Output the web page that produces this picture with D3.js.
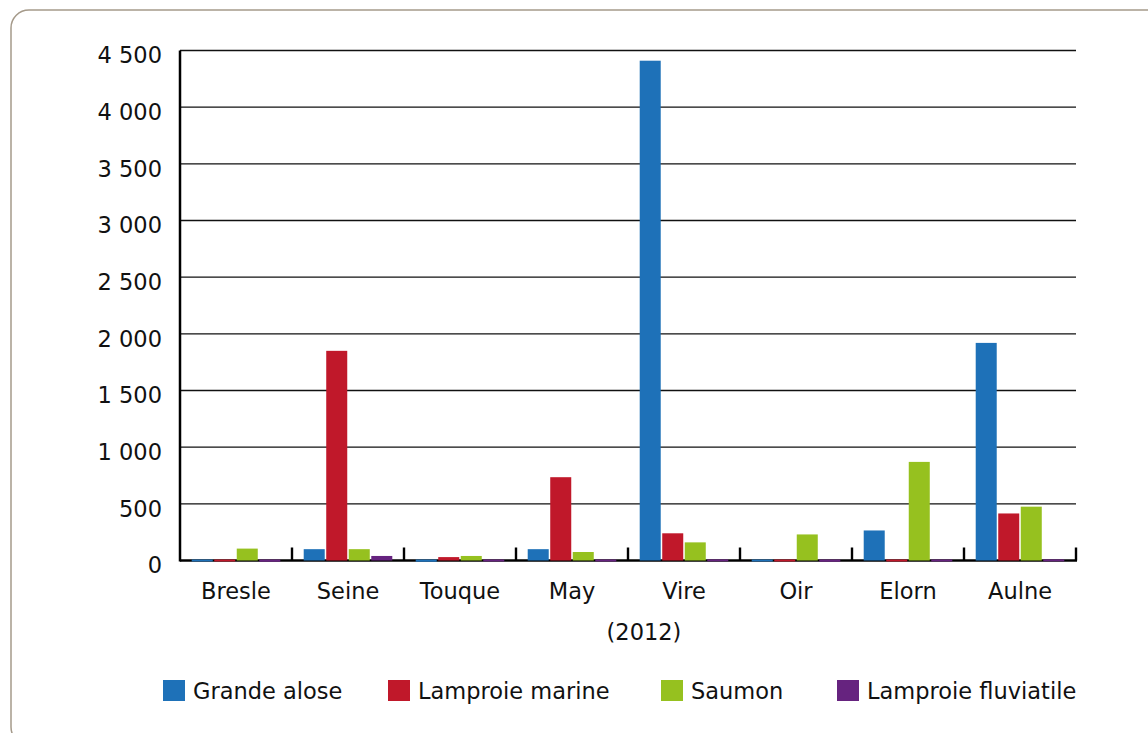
<!DOCTYPE html>
<html>
<head>
<meta charset="utf-8">
<script src="https://cdn.jsdelivr.net/npm/d3@7"></script>
<style>
  html, body { margin: 0; padding: 0; background: #fff; }
  svg { display: block; font-family: "DejaVu Sans", sans-serif; }
</style>
</head>
<body>
<div id="chart"></div>
<script>
// rivers (2012)
const rivers = ['Bresle', 'Seine', 'Touque', 'May', 'Vire', 'Oir', 'Elorn', 'Aulne'];
const species = ['Grande alose', 'Lamproie marine', 'Saumon', 'Lamproie fluviatile'];
const colors = ['#1e71b8', '#c0182a', '#96c11f', '#66237f'];

// counts per species, one value per river
const grandeAlose = [0, 100, -20, 100, 4410, 0, 265, 1920];
const lamproieMarine = [0, 1850, 30, 735, 240, 0, 0, 415];
const saumon = [105, 100, 40, 75, 160, 230, 870, 475];
const lamproieFluviatile = [-20, 40, 5, 5, 10, -20, 5, 10];

const yTicks = [0, 500, 1000, 1500, 2000, 2500, 3000, 3500, 4000, 4500];
const yearLabel = '(2012)';

const seriesValues = [grandeAlose, lamproieMarine, saumon, lamproieFluviatile];

const W = 1148, H = 733;
const plotL = 180, plotR = 1076, plotT = 50.5, plotB = 560.5;
const fontSize = 22.5;

const fr = d3.formatLocale({ decimal: ',', thousands: '\u00a0', grouping: [3], currency: ['', ' €'] });
const fmt = fr.format(',d');

const svg = d3.select('#chart').append('svg')
  .attr('width', W)
  .attr('height', H);

// frame
svg.append('rect')
  .attr('x', 11).attr('y', 10)
  .attr('width', 1160).attr('height', 735)
  .attr('rx', 18).attr('ry', 18)
  .attr('fill', 'none')
  .attr('stroke', '#a59a8a')
  .attr('stroke-width', 1.5);

const x = d3.scaleBand().domain(rivers).range([plotL, plotR]);
const xs = d3.scaleBand().domain(species).range([0, x.bandwidth()])
  .paddingInner(0.067).paddingOuter(0.52);
const y = d3.scaleLinear().domain([0, 4500]).range([plotB, plotT]);

// gridlines
svg.append('g')
  .selectAll('line')
  .data(yTicks.slice(1))
  .join('line')
  .attr('x1', plotL).attr('x2', plotR)
  .attr('y1', d => y(d)).attr('y2', d => y(d))
  .attr('stroke', '#111')
  .attr('stroke-width', 1.3);

// y labels
svg.append('g')
  .selectAll('text')
  .data(yTicks)
  .join('text')
  .attr('x', 162)
  .attr('y', d => y(d) + 5)
  .attr('dy', '0.35em')
  .attr('text-anchor', 'end')
  .attr('font-size', fontSize)
  .attr('fill', '#111')
  .text(d => fmt(d));

// y axis line
svg.append('line')
  .attr('x1', plotL).attr('x2', plotL)
  .attr('y1', plotT).attr('y2', plotB + 1)
  .attr('stroke', '#000').attr('stroke-width', 2.5);

// x axis line + ticks between categories
svg.append('line')
  .attr('x1', plotL).attr('x2', plotR + 1)
  .attr('y1', plotB).attr('y2', plotB)
  .attr('stroke', '#000').attr('stroke-width', 2.6);

svg.append('g')
  .selectAll('line')
  .data(rivers.slice(1).map(r => x(r)).concat([plotR]))
  .join('line')
  .attr('x1', d => d).attr('x2', d => d)
  .attr('y1', plotB).attr('y2', plotB - 13)
  .attr('stroke', '#000').attr('stroke-width', 2.4);

// bars
const barData = [];
seriesValues.forEach((vals, i) => {
  vals.forEach((v, j) => barData.push({ river: rivers[j], sp: species[i], v, c: colors[i] }));
});

svg.append('g')
  .selectAll('rect')
  .data(barData)
  .join('rect')
  .attr('x', d => x(d.river) + xs(d.sp))
  .attr('width', xs.bandwidth())
  .attr('y', d => d.v >= 0 ? Math.min(y(d.v), plotB - 1) : plotB - 1)
  .attr('height', d => Math.max(Math.abs(y(d.v) - y(0)), 2))
  .attr('fill', d => d.c);

// category labels
svg.append('g')
  .selectAll('text')
  .data(rivers)
  .join('text')
  .attr('x', d => x(d) + x.bandwidth() / 2)
  .attr('y', 599)
  .attr('text-anchor', 'middle')
  .attr('font-size', fontSize)
  .attr('fill', '#111')
  .text(d => d);

svg.append('text')
  .attr('x', 644).attr('y', 640)
  .attr('text-anchor', 'middle')
  .attr('font-size', fontSize)
  .attr('fill', '#111')
  .text(yearLabel);

// legend
const legendX = [163, 388, 661, 837];
const legend = svg.append('g')
  .selectAll('g')
  .data(species)
  .join('g')
  .attr('transform', (d, i) => `translate(${legendX[i]},680)`);

legend.append('rect')
  .attr('width', 22).attr('height', 21)
  .attr('fill', (d, i) => colors[i]);

legend.append('text')
  .attr('x', 30).attr('y', 19)
  .attr('font-size', fontSize)
  .attr('fill', '#111')
  .text(d => d);
</script>
</body>
</html>
